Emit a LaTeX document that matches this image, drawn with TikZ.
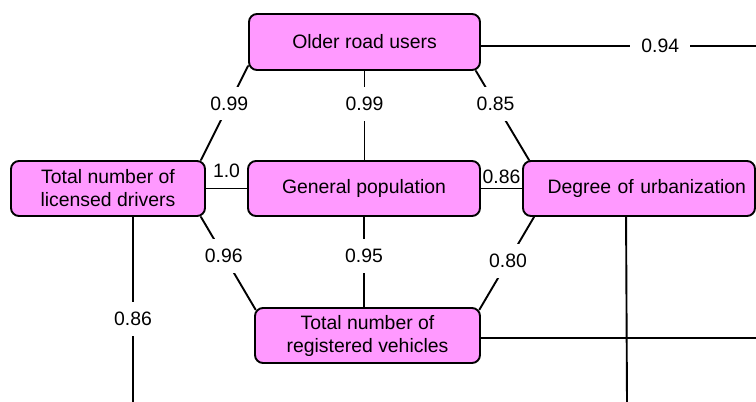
\documentclass[tikz,border=0pt]{standalone}
\usepackage{fontspec}
\setmainfont{Liberation Sans}
\definecolor{boxpink}{RGB}{255,153,255}
\begin{document}
\begin{tikzpicture}[x=1pt, y=-1pt, line width=1.9pt, line join=round, line cap=round, font=\fontsize{19.4}{23}\selectfont,
		box/.style={draw, fill=boxpink, rounded corners=8pt, minimum height=55pt, align=center, inner sep=2pt},
		val/.style={fill=white, inner xsep=11pt, inner ysep=10pt}]
			\def\xmax{756} \def\ymax{402}
			\path[fill=white] (0,0) rectangle (\xmax,\ymax);
			\useasboundingbox (0,0) rectangle (\xmax,\ymax);
			%\draw[color=gray!50,dashed] (0,0) grid[step=50] (\xmax,\ymax);
			\node[box, minimum width=231pt, minimum height=56pt] (older) at (364.5,42) {Older road users};
			\node[box, minimum width=194pt] (drivers) at (108,188.5) {Total number of\\licensed drivers};
			\node[box, minimum width=232pt] (general) at (364,188.5) {General population};
			\node[box, minimum width=232pt, text width=214pt, align=right] (urban) at (639,188.5) {Degree of urbanization};
			\node[box, minimum width=225pt] (vehicles) at (367.5,335.5) {Total number of\\registered vehicles};
			% lines leaving the picture
			\coordinate (e94) at (\xmax,46);
			\coordinate (e86) at (133,\ymax);
			\coordinate (evh) at (\xmax,338);
			\coordinate (eurb) at (627,\ymax);
			\draw ([yshift=5pt]older.south west) -- node[val, pos=0.4]{0.99} ([xshift=-5pt]drivers.north east);
			\draw (older.south) -- node[val, pos=0.37]{0.99} (older.south |- general.north);
			\draw ([xshift=-5pt]older.south east) -- node[val, pos=0.37]{0.85} ([xshift=7pt]urban.north west);
			\draw ([yshift=-4pt]older.east) -- node[val, pos=0.652]{0.94} (e94);
			\draw (drivers.east) -- node[above=7.5pt, inner sep=2pt]{1.0} (general.west);
			\draw (general.east) -- node[above=1.5pt, inner sep=2pt]{0.86} (urban.west);
			\draw[shorten >=-3pt] ([xshift=-5pt]drivers.south east) -- node[val, pos=0.43]{0.96} (vehicles.north west);
			\draw (general.south) -- node[val, pos=0.43]{0.95} (general.south |- vehicles.north);
			\draw[shorten >=-3pt] ([xshift=12pt]urban.south west) -- node[val, pos=0.49]{0.80} (vehicles.north east);
			\draw ([xshift=25pt]drivers.south) -- node[val, pos=0.55]{0.86} (e86);
			\draw ([yshift=-2.5pt]vehicles.east) -- (evh);
			\draw ([xshift=104pt]urban.south west) -- (eurb);
		\end{tikzpicture}
\end{document}
